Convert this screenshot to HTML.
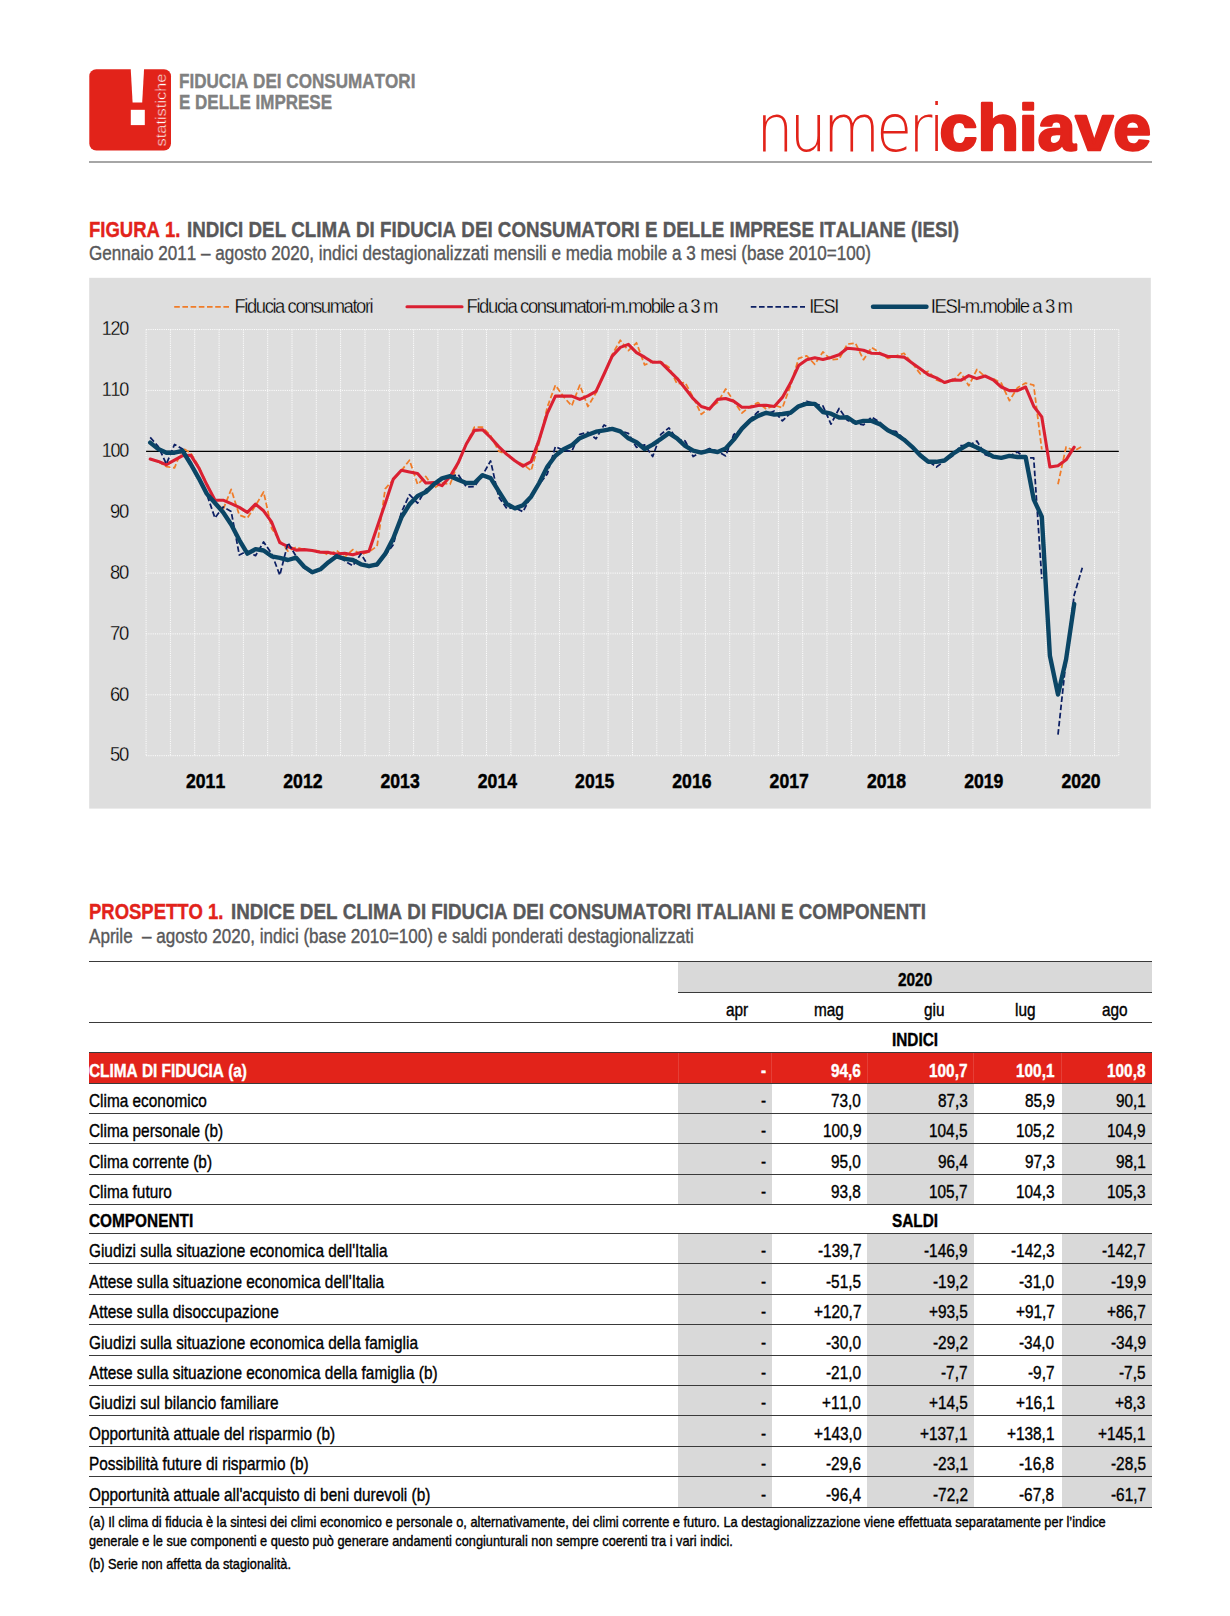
<!DOCTYPE html>
<html lang="it">
<head>
<meta charset="utf-8">
<title>Fiducia dei consumatori e delle imprese - numeri chiave</title>
<style>
html,body{margin:0;padding:0;background:#fff;}
body{width:1230px;height:1616px;position:relative;overflow:hidden;font-family:"Liberation Sans",sans-serif;color:#000;font-kerning:none;}
.t{position:absolute;line-height:1;white-space:pre;-webkit-text-stroke:0.38px currentColor;transform-origin:0 0;display:block;}
.b{position:absolute;}
svg{position:absolute;left:0;top:0;overflow:visible;}
svg text{font-family:"Liberation Sans",sans-serif;font-kerning:none;}
</style>
</head>
<body>
<svg width="1230" height="170" viewBox="0 0 1230 170">
<rect x="89.3" y="69.2" width="81.7" height="81.3" rx="7" ry="7" fill="#e2231a"/>
<path d="M130.7 68.5 L144.1 68.5 L142.2 102.4 L132.6 102.4 Z" fill="#fff"/>
<rect x="130.8" y="109.8" width="14" height="15.3" fill="#fff"/>
<text transform="translate(166.3,146.5) rotate(-90)" font-size="15.5" fill="#fff" textLength="73" lengthAdjust="spacingAndGlyphs" stroke="#e2231a" stroke-width="0.45">statistiche</text>
</svg>
<span class="t" style="left:179.40px;top:71.60px;font-size:19.8px;transform:scaleX(0.8640);font-weight:bold;color:#808080;">FIDUCIA DEI CONSUMATORI</span>
<span class="t" style="left:179.40px;top:92.60px;font-size:19.8px;transform:scaleX(0.8595);font-weight:bold;color:#808080;">E DELLE IMPRESE</span>
<svg width="1230" height="170" viewBox="0 0 1230 170">
<text x="756.5" y="151" font-size="66" style="font-family:'DejaVu Sans Light','DejaVu Sans',sans-serif;font-weight:200" fill="#e2231a" letter-spacing="-4" textLength="185" lengthAdjust="spacingAndGlyphs">numeri</text>
<text x="939.6" y="150.2" font-size="64" font-weight="bold" fill="#e2231a" stroke="#e2231a" stroke-width="2.6" stroke-linejoin="round" textLength="211.5" lengthAdjust="spacingAndGlyphs">chiave</text>
</svg>
<div class="b" style="left:89.00px;top:161.20px;width:1063.00px;height:1.60px;background:#a6a6a6;"></div>
<span class="t" style="left:89.30px;top:219.10px;font-size:21.8px;transform:scaleX(0.8489);font-weight:bold;color:#e2231a;">FIGURA 1.</span>
<span class="t" style="left:187.00px;top:219.10px;font-size:21.8px;transform:scaleX(0.8614);font-weight:bold;color:#58585a;">INDICI DEL CLIMA DI FIDUCIA DEI CONSUMATORI E DELLE IMPRESE ITALIANE (IESI)</span>
<span class="t" style="left:89.30px;top:243.70px;font-size:19.6px;transform:scaleX(0.8717);color:#58585a;">Gennaio 2011 – agosto 2020, indici destagionalizzati mensili e media mobile a 3 mesi (base 2010=100)</span>
<svg width="1230" height="1616" viewBox="0 0 1230 1616">
<rect x="89.2" y="277.8" width="1061.6" height="530.8" fill="#dedede"/>
<path d="M146.1 329.5V755.7M170.4 329.5V755.7M194.7 329.5V755.7M219.1 329.5V755.7M243.4 329.5V755.7M267.7 329.5V755.7M292.0 329.5V755.7M316.3 329.5V755.7M340.6 329.5V755.7M365.0 329.5V755.7M389.3 329.5V755.7M413.6 329.5V755.7M437.9 329.5V755.7M462.2 329.5V755.7M486.5 329.5V755.7M510.9 329.5V755.7M535.2 329.5V755.7M559.5 329.5V755.7M583.8 329.5V755.7M608.1 329.5V755.7M632.5 329.5V755.7M656.8 329.5V755.7M681.1 329.5V755.7M705.4 329.5V755.7M729.7 329.5V755.7M754.0 329.5V755.7M778.4 329.5V755.7M802.7 329.5V755.7M827.0 329.5V755.7M851.3 329.5V755.7M875.6 329.5V755.7M899.9 329.5V755.7M924.3 329.5V755.7M948.6 329.5V755.7M972.9 329.5V755.7M997.2 329.5V755.7M1021.5 329.5V755.7M1045.8 329.5V755.7M1070.2 329.5V755.7M1094.5 329.5V755.7M1118.8 329.5V755.7M146.1 329.5H1118.8M146.1 390.4H1118.8M146.1 512.2H1118.8M146.1 573.1H1118.8M146.1 633.9H1118.8M146.1 694.8H1118.8M146.1 755.7H1118.8" stroke="#fff" stroke-width="1" stroke-dasharray="1.1 1.1" fill="none" opacity="0.95"/>
<path d="M146.1 451.3H1118.8" stroke="#000" stroke-width="1.25" fill="none"/>
<g fill="none" stroke-linejoin="round">
<polyline points="150.2,459.1 158.3,461.8 166.4,466.6 174.5,467.9 182.6,448.2 190.7,453.0 198.8,466.6 206.9,484.2 215.0,501.7 223.1,509.5 231.2,489.4 239.3,515.1 247.4,518.0 255.5,505.6 263.6,492.0 271.7,528.4 279.8,540.7 288.0,551.1 296.1,547.2 304.2,549.8 312.3,550.1 320.4,551.1 328.5,555.0 336.6,550.5 344.7,557.1 352.8,549.6 360.9,554.5 369.0,551.9 377.1,546.1 385.2,488.8 393.3,479.7 401.4,470.6 409.5,460.2 417.6,484.3 425.8,476.5 433.9,488.2 442.0,483.0 450.1,484.3 458.2,462.8 466.3,444.0 474.4,427.1 482.5,427.1 490.6,435.6 498.7,451.2 506.8,454.4 514.9,460.9 523.0,464.2 531.1,470.7 539.2,442.7 547.3,407.1 555.4,385.1 563.6,396.8 571.7,405.9 579.8,385.1 587.9,406.5 596.0,392.9 604.1,374.0 612.2,354.5 620.3,340.2 628.4,350.6 636.5,342.8 644.6,364.9 652.7,361.7 660.8,361.7 668.9,367.2 677.0,383.8 685.1,382.5 693.2,397.4 701.3,414.3 709.5,407.8 717.6,402.6 725.7,389.0 733.8,401.3 741.9,413.0 750.0,406.5 758.1,402.6 766.2,409.1 774.3,405.2 782.4,407.8 790.5,385.7 798.6,358.4 806.7,355.8 814.8,364.3 822.9,351.9 831.0,359.7 839.1,359.1 847.3,344.1 855.4,343.1 863.5,359.7 871.6,347.4 879.7,352.6 887.8,358.4 895.9,356.1 904.0,353.2 912.1,363.0 920.2,373.8 928.3,371.4 936.4,379.9 944.5,382.9 952.6,381.2 960.7,372.7 968.8,385.7 976.9,369.5 985.1,376.6 993.2,378.6 1001.3,383.1 1009.4,400.7 1017.5,387.7 1025.6,383.1 1033.7,385.1 1041.8,449.5" stroke="#f07c28" stroke-width="1.75" stroke-dasharray="5.6 2.6"/>
<polyline points="1058.0,484.2 1066.1,447.0 1074.2,450.7 1082.3,446.4" stroke="#f07c28" stroke-width="1.75" stroke-dasharray="5.6 2.6"/>
<polyline points="150.2,459.1 158.3,461.4 166.4,464.7 174.5,460.1 182.6,455.6 190.7,455.2 198.8,467.9 206.9,484.8 215.0,500.2 223.1,500.2 231.2,503.7 239.3,507.4 247.4,512.4 255.5,504.1 263.6,510.8 271.7,522.2 279.8,542.7 288.0,546.6 296.1,550.1 304.2,549.6 312.3,550.5 320.4,552.2 328.5,552.4 336.6,554.1 344.7,553.3 352.8,554.8 360.9,552.6 369.0,551.3 377.1,527.3 385.2,503.4 393.3,479.1 401.4,470.3 409.5,471.9 417.6,473.5 425.8,483.0 433.9,482.6 442.0,485.6 450.1,476.5 458.2,462.8 466.3,444.0 474.4,430.4 482.5,429.7 490.6,437.5 498.7,446.6 506.8,454.4 514.9,460.7 523.0,466.1 531.1,461.6 539.2,439.5 547.3,413.3 555.4,396.1 563.6,396.1 571.7,396.1 579.8,399.4 587.9,395.9 596.0,391.3 604.1,374.0 612.2,356.1 620.3,347.4 628.4,344.4 636.5,352.6 644.6,357.2 652.7,362.3 660.8,362.3 668.9,370.4 677.0,378.3 685.1,388.3 693.2,398.7 701.3,406.5 709.5,409.1 717.6,399.4 725.7,398.5 733.8,401.3 741.9,407.2 750.0,407.2 758.1,405.5 766.2,405.2 774.3,406.5 782.4,397.4 790.5,383.1 798.6,365.6 806.7,359.7 814.8,357.8 822.9,359.5 831.0,357.4 839.1,354.8 847.3,348.3 855.4,349.0 863.5,350.3 871.6,353.2 879.7,353.5 887.8,356.5 895.9,356.5 904.0,357.1 912.1,363.0 920.2,368.8 928.3,374.7 936.4,377.9 944.5,382.5 952.6,379.9 960.7,380.3 968.8,375.6 976.9,378.6 985.1,376.0 993.2,379.9 1001.3,387.0 1009.4,390.6 1017.5,390.6 1025.6,387.0 1033.7,406.2 1041.8,416.9 1049.9,467.0 1058.0,465.7 1066.1,459.8 1074.2,447.2" stroke="#da2032" stroke-width="3.1" stroke-linecap="round"/>
<polyline points="150.2,437.4 158.3,446.5 166.4,464.0 174.5,444.5 182.6,449.1 190.7,464.0 198.8,478.6 206.9,494.6 215.0,518.0 223.1,506.9 231.2,511.5 239.3,555.0 247.4,551.1 255.5,555.7 263.6,542.0 271.7,553.7 279.8,575.2 288.0,542.7 296.1,556.3 304.2,568.0 312.3,573.3 320.4,568.0 328.5,561.5 336.6,555.0 344.7,560.9 352.8,565.8 360.9,553.9 369.0,566.9 377.1,565.6 385.2,555.2 393.3,544.8 401.4,512.2 409.5,494.7 417.6,503.1 425.8,489.5 433.9,484.9 442.0,477.1 450.1,476.5 458.2,474.5 466.3,486.9 474.4,486.6 482.5,475.2 490.6,460.9 498.7,497.0 506.8,508.4 514.9,507.8 523.0,511.7 531.1,496.1 539.2,484.3 547.3,473.9 555.4,446.6 563.6,450.5 571.7,451.2 579.8,434.3 587.9,432.3 596.0,438.8 604.1,424.9 612.2,429.5 620.3,430.8 628.4,433.4 636.5,447.4 644.6,444.8 652.7,456.5 660.8,434.4 668.9,427.9 677.0,439.0 685.1,440.9 693.2,456.5 701.3,452.0 709.5,448.5 717.6,451.3 725.7,455.9 733.8,434.4 741.9,429.2 750.0,419.2 758.1,411.7 766.2,414.3 774.3,411.1 782.4,420.9 790.5,413.0 798.6,406.5 806.7,401.3 814.8,403.9 822.9,405.9 831.0,424.1 839.1,408.5 847.3,420.2 855.4,423.5 863.5,424.8 871.6,417.0 879.7,422.2 887.8,430.6 895.9,431.3 904.0,439.1 912.1,447.5 920.2,455.9 928.3,461.1 936.4,467.0 944.5,461.1 952.6,455.9 960.7,445.5 968.8,445.5 976.9,441.0 985.1,454.6 993.2,457.2 1001.3,457.9 1009.4,455.9 1017.5,452.0 1025.6,457.9 1033.7,457.9 1041.8,578.6" stroke="#0c1f63" stroke-width="1.75" stroke-dasharray="5.6 2.6"/>
<polyline points="1058.0,734.6 1066.1,659.8 1074.2,595.0 1082.3,567.7" stroke="#0c1f63" stroke-width="1.75" stroke-dasharray="5.6 2.6"/>
<polyline points="150.2,442.6 158.3,449.1 166.4,452.7 174.5,452.7 182.6,450.8 190.7,464.0 198.8,478.3 206.9,493.9 215.0,503.0 223.1,512.3 231.2,524.5 239.3,540.1 247.4,553.7 255.5,549.2 263.6,550.5 271.7,556.3 279.8,557.9 288.0,560.0 296.1,557.6 304.2,566.7 312.3,572.2 320.4,569.3 328.5,562.2 336.6,556.3 344.7,558.9 352.8,560.0 360.9,564.3 369.0,566.2 377.1,564.3 385.2,553.9 393.3,538.3 401.4,517.4 409.5,504.4 417.6,496.0 425.8,492.1 433.9,484.3 442.0,478.4 450.1,476.2 458.2,479.7 466.3,483.0 474.4,483.0 482.5,475.2 490.6,478.1 498.7,491.1 506.8,503.9 514.9,508.4 523.0,505.2 531.1,496.7 539.2,483.0 547.3,466.8 555.4,455.7 563.6,449.2 571.7,445.3 579.8,438.2 587.9,434.7 596.0,431.7 604.1,430.3 612.2,428.9 620.3,431.4 628.4,438.3 636.5,442.2 644.6,449.0 652.7,444.6 660.8,439.0 668.9,433.1 677.0,438.3 685.1,445.9 693.2,450.7 701.3,452.6 709.5,450.7 717.6,452.0 725.7,448.5 733.8,439.6 741.9,428.6 750.0,420.6 758.1,415.9 766.2,412.8 774.3,414.6 782.4,414.0 790.5,412.8 798.6,406.3 806.7,403.7 814.8,403.9 822.9,412.0 831.0,413.7 839.1,417.6 847.3,417.2 855.4,422.8 863.5,420.9 871.6,420.9 879.7,424.1 887.8,430.2 895.9,434.2 904.0,439.7 912.1,446.8 920.2,455.3 928.3,461.8 936.4,461.8 944.5,460.5 952.6,454.0 960.7,448.8 968.8,444.0 976.9,447.5 985.1,452.0 993.2,456.6 1001.3,457.9 1009.4,455.9 1017.5,457.0 1025.6,457.0 1033.7,499.4 1041.8,516.7 1049.9,655.8 1058.0,694.5 1066.1,659.3 1074.2,603.9" stroke="#0a4565" stroke-width="4.4" stroke-linecap="round"/>
</g>
<path d="M174.2 306.8H229" stroke="#f07c28" stroke-width="1.75" stroke-dasharray="5.6 2.6" fill="none"/>
<path d="M407 306.8H462" stroke="#da2032" stroke-width="3.1" stroke-linecap="round" fill="none"/>
<path d="M750.8 306.8H805" stroke="#0c1f63" stroke-width="1.75" stroke-dasharray="5.6 2.6" fill="none"/>
<path d="M873 306.8H926.5" stroke="#0a4565" stroke-width="4.4" stroke-linecap="round" fill="none"/>
<text x="234.5" y="312.7" font-size="19.5" stroke="#dedede" stroke-width="0.32" letter-spacing="-1.5" textLength="137.8" lengthAdjust="spacingAndGlyphs">Fiducia consumatori</text>
<text x="466.5" y="312.7" font-size="19.5" stroke="#dedede" stroke-width="0.32" letter-spacing="-1.5" textLength="250.5" lengthAdjust="spacingAndGlyphs">Fiducia consumatori-m.mobile a 3 m</text>
<text x="809.2" y="312.7" font-size="19.5" stroke="#dedede" stroke-width="0.32" letter-spacing="-1.5" textLength="28.7" lengthAdjust="spacingAndGlyphs">IESI</text>
<text x="930.8" y="312.7" font-size="19.5" stroke="#dedede" stroke-width="0.32" letter-spacing="-1.5" textLength="140.8" lengthAdjust="spacingAndGlyphs">IESI-m.mobile a 3 m</text>
<text x="127.8" y="335.2" font-size="20.2" text-anchor="end" stroke="#dedede" stroke-width="0.32" letter-spacing="-1.5" textLength="26.0" lengthAdjust="spacingAndGlyphs">120</text>
<text x="127.8" y="396.1" font-size="20.2" text-anchor="end" stroke="#dedede" stroke-width="0.32" letter-spacing="-1.5" textLength="26.0" lengthAdjust="spacingAndGlyphs">110</text>
<text x="127.8" y="457.0" font-size="20.2" text-anchor="end" stroke="#dedede" stroke-width="0.32" letter-spacing="-1.5" textLength="26.0" lengthAdjust="spacingAndGlyphs">100</text>
<text x="127.8" y="517.9" font-size="20.2" text-anchor="end" stroke="#dedede" stroke-width="0.32" letter-spacing="-1.5" textLength="17.8" lengthAdjust="spacingAndGlyphs">90</text>
<text x="127.8" y="578.8" font-size="20.2" text-anchor="end" stroke="#dedede" stroke-width="0.32" letter-spacing="-1.5" textLength="17.8" lengthAdjust="spacingAndGlyphs">80</text>
<text x="127.8" y="639.6" font-size="20.2" text-anchor="end" stroke="#dedede" stroke-width="0.32" letter-spacing="-1.5" textLength="17.8" lengthAdjust="spacingAndGlyphs">70</text>
<text x="127.8" y="700.5" font-size="20.2" text-anchor="end" stroke="#dedede" stroke-width="0.32" letter-spacing="-1.5" textLength="17.8" lengthAdjust="spacingAndGlyphs">60</text>
<text x="127.8" y="761.4" font-size="20.2" text-anchor="end" stroke="#dedede" stroke-width="0.32" letter-spacing="-1.5" textLength="17.8" lengthAdjust="spacingAndGlyphs">50</text>
<text x="205.6" y="787.6" font-size="20.2" text-anchor="middle" font-weight="bold" stroke="#000" stroke-width="0.45" textLength="39.2" lengthAdjust="spacingAndGlyphs">2011</text>
<text x="302.9" y="787.6" font-size="20.2" text-anchor="middle" font-weight="bold" stroke="#000" stroke-width="0.45" textLength="39.2" lengthAdjust="spacingAndGlyphs">2012</text>
<text x="400.1" y="787.6" font-size="20.2" text-anchor="middle" font-weight="bold" stroke="#000" stroke-width="0.45" textLength="39.2" lengthAdjust="spacingAndGlyphs">2013</text>
<text x="497.4" y="787.6" font-size="20.2" text-anchor="middle" font-weight="bold" stroke="#000" stroke-width="0.45" textLength="39.2" lengthAdjust="spacingAndGlyphs">2014</text>
<text x="594.7" y="787.6" font-size="20.2" text-anchor="middle" font-weight="bold" stroke="#000" stroke-width="0.45" textLength="39.2" lengthAdjust="spacingAndGlyphs">2015</text>
<text x="691.9" y="787.6" font-size="20.2" text-anchor="middle" font-weight="bold" stroke="#000" stroke-width="0.45" textLength="39.2" lengthAdjust="spacingAndGlyphs">2016</text>
<text x="789.2" y="787.6" font-size="20.2" text-anchor="middle" font-weight="bold" stroke="#000" stroke-width="0.45" textLength="39.2" lengthAdjust="spacingAndGlyphs">2017</text>
<text x="886.5" y="787.6" font-size="20.2" text-anchor="middle" font-weight="bold" stroke="#000" stroke-width="0.45" textLength="39.2" lengthAdjust="spacingAndGlyphs">2018</text>
<text x="983.8" y="787.6" font-size="20.2" text-anchor="middle" font-weight="bold" stroke="#000" stroke-width="0.45" textLength="39.2" lengthAdjust="spacingAndGlyphs">2019</text>
<text x="1081.0" y="787.6" font-size="20.2" text-anchor="middle" font-weight="bold" stroke="#000" stroke-width="0.45" textLength="39.2" lengthAdjust="spacingAndGlyphs">2020</text>
</svg>
<span class="t" style="left:89.30px;top:901.10px;font-size:21.8px;transform:scaleX(0.8475);font-weight:bold;color:#e2231a;">PROSPETTO 1.</span>
<span class="t" style="left:230.50px;top:901.10px;font-size:21.8px;transform:scaleX(0.8617);font-weight:bold;color:#58585a;">INDICE DEL CLIMA DI FIDUCIA DEI CONSUMATORI ITALIANI E COMPONENTI</span>
<span class="t" style="left:89.30px;top:926.70px;font-size:19.6px;transform:scaleX(0.8711);color:#58585a;">Aprile  – agosto 2020, indici (base 2010=100) e saldi ponderati destagionalizzati</span>
<div class="b" style="left:678.30px;top:961.50px;width:473.70px;height:31.00px;background:#d9d9d9;"></div>
<div class="b" style="left:89.00px;top:1052.50px;width:1063.00px;height:31.00px;background:#e2231a;"></div>
<div class="b" style="left:678.30px;top:1083.50px;width:93.50px;height:30.00px;background:#d9d9d9;"></div>
<div class="b" style="left:867.30px;top:1083.50px;width:106.50px;height:30.00px;background:#d9d9d9;"></div>
<div class="b" style="left:1061.60px;top:1083.50px;width:90.40px;height:30.00px;background:#d9d9d9;"></div>
<div class="b" style="left:678.30px;top:1113.50px;width:93.50px;height:30.00px;background:#d9d9d9;"></div>
<div class="b" style="left:867.30px;top:1113.50px;width:106.50px;height:30.00px;background:#d9d9d9;"></div>
<div class="b" style="left:1061.60px;top:1113.50px;width:90.40px;height:30.00px;background:#d9d9d9;"></div>
<div class="b" style="left:678.30px;top:1143.50px;width:93.50px;height:31.00px;background:#d9d9d9;"></div>
<div class="b" style="left:867.30px;top:1143.50px;width:106.50px;height:31.00px;background:#d9d9d9;"></div>
<div class="b" style="left:1061.60px;top:1143.50px;width:90.40px;height:31.00px;background:#d9d9d9;"></div>
<div class="b" style="left:678.30px;top:1174.50px;width:93.50px;height:30.00px;background:#d9d9d9;"></div>
<div class="b" style="left:867.30px;top:1174.50px;width:106.50px;height:30.00px;background:#d9d9d9;"></div>
<div class="b" style="left:1061.60px;top:1174.50px;width:90.40px;height:30.00px;background:#d9d9d9;"></div>
<div class="b" style="left:678.30px;top:1233.50px;width:93.50px;height:30.00px;background:#d9d9d9;"></div>
<div class="b" style="left:867.30px;top:1233.50px;width:106.50px;height:30.00px;background:#d9d9d9;"></div>
<div class="b" style="left:1061.60px;top:1233.50px;width:90.40px;height:30.00px;background:#d9d9d9;"></div>
<div class="b" style="left:678.30px;top:1263.50px;width:93.50px;height:31.00px;background:#d9d9d9;"></div>
<div class="b" style="left:867.30px;top:1263.50px;width:106.50px;height:31.00px;background:#d9d9d9;"></div>
<div class="b" style="left:1061.60px;top:1263.50px;width:90.40px;height:31.00px;background:#d9d9d9;"></div>
<div class="b" style="left:678.30px;top:1294.50px;width:93.50px;height:30.00px;background:#d9d9d9;"></div>
<div class="b" style="left:867.30px;top:1294.50px;width:106.50px;height:30.00px;background:#d9d9d9;"></div>
<div class="b" style="left:1061.60px;top:1294.50px;width:90.40px;height:30.00px;background:#d9d9d9;"></div>
<div class="b" style="left:678.30px;top:1324.50px;width:93.50px;height:31.00px;background:#d9d9d9;"></div>
<div class="b" style="left:867.30px;top:1324.50px;width:106.50px;height:31.00px;background:#d9d9d9;"></div>
<div class="b" style="left:1061.60px;top:1324.50px;width:90.40px;height:31.00px;background:#d9d9d9;"></div>
<div class="b" style="left:678.30px;top:1355.50px;width:93.50px;height:30.00px;background:#d9d9d9;"></div>
<div class="b" style="left:867.30px;top:1355.50px;width:106.50px;height:30.00px;background:#d9d9d9;"></div>
<div class="b" style="left:1061.60px;top:1355.50px;width:90.40px;height:30.00px;background:#d9d9d9;"></div>
<div class="b" style="left:678.30px;top:1385.50px;width:93.50px;height:30.00px;background:#d9d9d9;"></div>
<div class="b" style="left:867.30px;top:1385.50px;width:106.50px;height:30.00px;background:#d9d9d9;"></div>
<div class="b" style="left:1061.60px;top:1385.50px;width:90.40px;height:30.00px;background:#d9d9d9;"></div>
<div class="b" style="left:678.30px;top:1415.50px;width:93.50px;height:31.00px;background:#d9d9d9;"></div>
<div class="b" style="left:867.30px;top:1415.50px;width:106.50px;height:31.00px;background:#d9d9d9;"></div>
<div class="b" style="left:1061.60px;top:1415.50px;width:90.40px;height:31.00px;background:#d9d9d9;"></div>
<div class="b" style="left:678.30px;top:1446.50px;width:93.50px;height:30.00px;background:#d9d9d9;"></div>
<div class="b" style="left:867.30px;top:1446.50px;width:106.50px;height:30.00px;background:#d9d9d9;"></div>
<div class="b" style="left:1061.60px;top:1446.50px;width:90.40px;height:30.00px;background:#d9d9d9;"></div>
<div class="b" style="left:678.30px;top:1476.50px;width:93.50px;height:31.00px;background:#d9d9d9;"></div>
<div class="b" style="left:867.30px;top:1476.50px;width:106.50px;height:31.00px;background:#d9d9d9;"></div>
<div class="b" style="left:1061.60px;top:1476.50px;width:90.40px;height:31.00px;background:#d9d9d9;"></div>
<div class="b" style="left:89.00px;top:961.00px;width:1063.00px;height:1.00px;background:#3a3a3a;"></div>
<div class="b" style="left:678.30px;top:992.00px;width:473.70px;height:1.00px;background:#3a3a3a;"></div>
<div class="b" style="left:89.00px;top:1022.00px;width:1063.00px;height:1.00px;background:#3a3a3a;"></div>
<div class="b" style="left:89.00px;top:1052.00px;width:1063.00px;height:1.00px;background:#3a3a3a;"></div>
<div class="b" style="left:89.00px;top:1083.00px;width:1063.00px;height:1.00px;background:#3a3a3a;"></div>
<div class="b" style="left:89.00px;top:1113.00px;width:1063.00px;height:1.00px;background:#3a3a3a;"></div>
<div class="b" style="left:89.00px;top:1143.00px;width:1063.00px;height:1.00px;background:#3a3a3a;"></div>
<div class="b" style="left:89.00px;top:1174.00px;width:1063.00px;height:1.00px;background:#3a3a3a;"></div>
<div class="b" style="left:89.00px;top:1204.00px;width:1063.00px;height:1.00px;background:#3a3a3a;"></div>
<div class="b" style="left:89.00px;top:1233.00px;width:1063.00px;height:1.00px;background:#3a3a3a;"></div>
<div class="b" style="left:89.00px;top:1263.00px;width:1063.00px;height:1.00px;background:#3a3a3a;"></div>
<div class="b" style="left:89.00px;top:1294.00px;width:1063.00px;height:1.00px;background:#3a3a3a;"></div>
<div class="b" style="left:89.00px;top:1324.00px;width:1063.00px;height:1.00px;background:#3a3a3a;"></div>
<div class="b" style="left:89.00px;top:1355.00px;width:1063.00px;height:1.00px;background:#3a3a3a;"></div>
<div class="b" style="left:89.00px;top:1385.00px;width:1063.00px;height:1.00px;background:#3a3a3a;"></div>
<div class="b" style="left:89.00px;top:1415.00px;width:1063.00px;height:1.00px;background:#3a3a3a;"></div>
<div class="b" style="left:89.00px;top:1446.00px;width:1063.00px;height:1.00px;background:#3a3a3a;"></div>
<div class="b" style="left:89.00px;top:1476.00px;width:1063.00px;height:1.00px;background:#3a3a3a;"></div>
<div class="b" style="left:89.00px;top:1507.00px;width:1063.00px;height:1.00px;background:#3a3a3a;"></div>
<div class="b" style="left:677.80px;top:1053.00px;width:1.00px;height:30.00px;background:rgba(255,255,255,0.13);"></div>
<div class="b" style="left:771.30px;top:1053.00px;width:1.00px;height:30.00px;background:rgba(255,255,255,0.13);"></div>
<div class="b" style="left:866.80px;top:1053.00px;width:1.00px;height:30.00px;background:rgba(255,255,255,0.13);"></div>
<div class="b" style="left:973.30px;top:1053.00px;width:1.00px;height:30.00px;background:rgba(255,255,255,0.13);"></div>
<div class="b" style="left:1061.10px;top:1053.00px;width:1.00px;height:30.00px;background:rgba(255,255,255,0.13);"></div>
<span class="t" style="left:898.04px;top:971.40px;font-size:18.2px;transform:scaleX(0.8452);font-weight:bold;">2020</span>
<span class="t" style="left:725.89px;top:1001.40px;font-size:18.2px;transform:scaleX(0.8452);">apr</span>
<span class="t" style="left:813.54px;top:1001.40px;font-size:18.2px;transform:scaleX(0.8452);">mag</span>
<span class="t" style="left:924.24px;top:1001.40px;font-size:18.2px;transform:scaleX(0.8452);">giu</span>
<span class="t" style="left:1014.74px;top:1001.40px;font-size:18.2px;transform:scaleX(0.8452);">lug</span>
<span class="t" style="left:1101.67px;top:1001.40px;font-size:18.2px;transform:scaleX(0.8452);">ago</span>
<span class="t" style="left:892.08px;top:1031.40px;font-size:18.2px;transform:scaleX(0.8452);font-weight:bold;">INDICI</span>
<span class="t" style="left:89.40px;top:1062.40px;font-size:18.2px;transform:scaleX(0.8452);font-weight:bold;color:#fff;">CLIMA DI FIDUCIA (a)</span>
<span class="t" style="left:761.38px;top:1062.40px;font-size:18.2px;transform:scaleX(0.8452);font-weight:bold;color:#fff;">-</span>
<span class="t" style="left:831.37px;top:1062.40px;font-size:18.2px;transform:scaleX(0.8452);font-weight:bold;color:#fff;">94,6</span>
<span class="t" style="left:929.31px;top:1062.40px;font-size:18.2px;transform:scaleX(0.8452);font-weight:bold;color:#fff;">100,7</span>
<span class="t" style="left:1016.01px;top:1062.40px;font-size:18.2px;transform:scaleX(0.8452);font-weight:bold;color:#fff;">100,1</span>
<span class="t" style="left:1107.31px;top:1062.40px;font-size:18.2px;transform:scaleX(0.8452);font-weight:bold;color:#fff;">100,8</span>
<span class="t" style="left:89.40px;top:1092.40px;font-size:18.2px;transform:scaleX(0.8452);color:#000;">Clima economico</span>
<span class="t" style="left:761.38px;top:1092.40px;font-size:18.2px;transform:scaleX(0.8452);color:#000;">-</span>
<span class="t" style="left:831.37px;top:1092.40px;font-size:18.2px;transform:scaleX(0.8452);color:#000;">73,0</span>
<span class="t" style="left:937.87px;top:1092.40px;font-size:18.2px;transform:scaleX(0.8452);color:#000;">87,3</span>
<span class="t" style="left:1024.57px;top:1092.40px;font-size:18.2px;transform:scaleX(0.8452);color:#000;">85,9</span>
<span class="t" style="left:1115.87px;top:1092.40px;font-size:18.2px;transform:scaleX(0.8452);color:#000;">90,1</span>
<span class="t" style="left:89.40px;top:1122.40px;font-size:18.2px;transform:scaleX(0.8452);color:#000;">Clima personale (b)</span>
<span class="t" style="left:761.38px;top:1122.40px;font-size:18.2px;transform:scaleX(0.8452);color:#000;">-</span>
<span class="t" style="left:822.81px;top:1122.40px;font-size:18.2px;transform:scaleX(0.8452);color:#000;">100,9</span>
<span class="t" style="left:929.31px;top:1122.40px;font-size:18.2px;transform:scaleX(0.8452);color:#000;">104,5</span>
<span class="t" style="left:1016.01px;top:1122.40px;font-size:18.2px;transform:scaleX(0.8452);color:#000;">105,2</span>
<span class="t" style="left:1107.31px;top:1122.40px;font-size:18.2px;transform:scaleX(0.8452);color:#000;">104,9</span>
<span class="t" style="left:89.40px;top:1153.40px;font-size:18.2px;transform:scaleX(0.8452);color:#000;">Clima corrente (b)</span>
<span class="t" style="left:761.38px;top:1153.40px;font-size:18.2px;transform:scaleX(0.8452);color:#000;">-</span>
<span class="t" style="left:831.37px;top:1153.40px;font-size:18.2px;transform:scaleX(0.8452);color:#000;">95,0</span>
<span class="t" style="left:937.87px;top:1153.40px;font-size:18.2px;transform:scaleX(0.8452);color:#000;">96,4</span>
<span class="t" style="left:1024.57px;top:1153.40px;font-size:18.2px;transform:scaleX(0.8452);color:#000;">97,3</span>
<span class="t" style="left:1115.87px;top:1153.40px;font-size:18.2px;transform:scaleX(0.8452);color:#000;">98,1</span>
<span class="t" style="left:89.40px;top:1183.40px;font-size:18.2px;transform:scaleX(0.8452);color:#000;">Clima futuro</span>
<span class="t" style="left:761.38px;top:1183.40px;font-size:18.2px;transform:scaleX(0.8452);color:#000;">-</span>
<span class="t" style="left:831.37px;top:1183.40px;font-size:18.2px;transform:scaleX(0.8452);color:#000;">93,8</span>
<span class="t" style="left:929.31px;top:1183.40px;font-size:18.2px;transform:scaleX(0.8452);color:#000;">105,7</span>
<span class="t" style="left:1016.01px;top:1183.40px;font-size:18.2px;transform:scaleX(0.8452);color:#000;">104,3</span>
<span class="t" style="left:1107.31px;top:1183.40px;font-size:18.2px;transform:scaleX(0.8452);color:#000;">105,3</span>
<span class="t" style="left:89.40px;top:1212.40px;font-size:18.2px;transform:scaleX(0.8452);font-weight:bold;color:#000;">COMPONENTI</span>
<span class="t" style="left:892.08px;top:1212.40px;font-size:18.2px;transform:scaleX(0.8452);font-weight:bold;">SALDI</span>
<span class="t" style="left:89.40px;top:1242.40px;font-size:18.2px;transform:scaleX(0.8452);color:#000;">Giudizi sulla situazione economica dell'Italia</span>
<span class="t" style="left:761.38px;top:1242.40px;font-size:18.2px;transform:scaleX(0.8452);color:#000;">-</span>
<span class="t" style="left:817.69px;top:1242.40px;font-size:18.2px;transform:scaleX(0.8452);color:#000;">-139,7</span>
<span class="t" style="left:924.19px;top:1242.40px;font-size:18.2px;transform:scaleX(0.8452);color:#000;">-146,9</span>
<span class="t" style="left:1010.89px;top:1242.40px;font-size:18.2px;transform:scaleX(0.8452);color:#000;">-142,3</span>
<span class="t" style="left:1102.19px;top:1242.40px;font-size:18.2px;transform:scaleX(0.8452);color:#000;">-142,7</span>
<span class="t" style="left:89.40px;top:1273.40px;font-size:18.2px;transform:scaleX(0.8452);color:#000;">Attese sulla situazione economica dell'Italia</span>
<span class="t" style="left:761.38px;top:1273.40px;font-size:18.2px;transform:scaleX(0.8452);color:#000;">-</span>
<span class="t" style="left:826.24px;top:1273.40px;font-size:18.2px;transform:scaleX(0.8452);color:#000;">-51,5</span>
<span class="t" style="left:932.74px;top:1273.40px;font-size:18.2px;transform:scaleX(0.8452);color:#000;">-19,2</span>
<span class="t" style="left:1019.44px;top:1273.40px;font-size:18.2px;transform:scaleX(0.8452);color:#000;">-31,0</span>
<span class="t" style="left:1110.74px;top:1273.40px;font-size:18.2px;transform:scaleX(0.8452);color:#000;">-19,9</span>
<span class="t" style="left:89.40px;top:1303.40px;font-size:18.2px;transform:scaleX(0.8452);color:#000;">Attese sulla disoccupazione</span>
<span class="t" style="left:761.38px;top:1303.40px;font-size:18.2px;transform:scaleX(0.8452);color:#000;">-</span>
<span class="t" style="left:813.83px;top:1303.40px;font-size:18.2px;transform:scaleX(0.8452);color:#000;">+120,7</span>
<span class="t" style="left:928.88px;top:1303.40px;font-size:18.2px;transform:scaleX(0.8452);color:#000;">+93,5</span>
<span class="t" style="left:1015.58px;top:1303.40px;font-size:18.2px;transform:scaleX(0.8452);color:#000;">+91,7</span>
<span class="t" style="left:1106.88px;top:1303.40px;font-size:18.2px;transform:scaleX(0.8452);color:#000;">+86,7</span>
<span class="t" style="left:89.40px;top:1334.40px;font-size:18.2px;transform:scaleX(0.8452);color:#000;">Giudizi sulla situazione economica della famiglia</span>
<span class="t" style="left:761.38px;top:1334.40px;font-size:18.2px;transform:scaleX(0.8452);color:#000;">-</span>
<span class="t" style="left:826.24px;top:1334.40px;font-size:18.2px;transform:scaleX(0.8452);color:#000;">-30,0</span>
<span class="t" style="left:932.74px;top:1334.40px;font-size:18.2px;transform:scaleX(0.8452);color:#000;">-29,2</span>
<span class="t" style="left:1019.44px;top:1334.40px;font-size:18.2px;transform:scaleX(0.8452);color:#000;">-34,0</span>
<span class="t" style="left:1110.74px;top:1334.40px;font-size:18.2px;transform:scaleX(0.8452);color:#000;">-34,9</span>
<span class="t" style="left:89.40px;top:1364.40px;font-size:18.2px;transform:scaleX(0.8452);color:#000;">Attese sulla situazione economica della famiglia (b)</span>
<span class="t" style="left:761.38px;top:1364.40px;font-size:18.2px;transform:scaleX(0.8452);color:#000;">-</span>
<span class="t" style="left:826.24px;top:1364.40px;font-size:18.2px;transform:scaleX(0.8452);color:#000;">-21,0</span>
<span class="t" style="left:941.30px;top:1364.40px;font-size:18.2px;transform:scaleX(0.8452);color:#000;">-7,7</span>
<span class="t" style="left:1028.00px;top:1364.40px;font-size:18.2px;transform:scaleX(0.8452);color:#000;">-9,7</span>
<span class="t" style="left:1119.30px;top:1364.40px;font-size:18.2px;transform:scaleX(0.8452);color:#000;">-7,5</span>
<span class="t" style="left:89.40px;top:1394.40px;font-size:18.2px;transform:scaleX(0.8452);color:#000;">Giudizi sul bilancio familiare</span>
<span class="t" style="left:761.38px;top:1394.40px;font-size:18.2px;transform:scaleX(0.8452);color:#000;">-</span>
<span class="t" style="left:822.40px;top:1394.40px;font-size:18.2px;transform:scaleX(0.8452);color:#000;">+11,0</span>
<span class="t" style="left:928.88px;top:1394.40px;font-size:18.2px;transform:scaleX(0.8452);color:#000;">+14,5</span>
<span class="t" style="left:1015.58px;top:1394.40px;font-size:18.2px;transform:scaleX(0.8452);color:#000;">+16,1</span>
<span class="t" style="left:1115.44px;top:1394.40px;font-size:18.2px;transform:scaleX(0.8452);color:#000;">+8,3</span>
<span class="t" style="left:89.40px;top:1425.40px;font-size:18.2px;transform:scaleX(0.8452);color:#000;">Opportunità attuale del risparmio (b)</span>
<span class="t" style="left:761.38px;top:1425.40px;font-size:18.2px;transform:scaleX(0.8452);color:#000;">-</span>
<span class="t" style="left:813.83px;top:1425.40px;font-size:18.2px;transform:scaleX(0.8452);color:#000;">+143,0</span>
<span class="t" style="left:920.33px;top:1425.40px;font-size:18.2px;transform:scaleX(0.8452);color:#000;">+137,1</span>
<span class="t" style="left:1007.03px;top:1425.40px;font-size:18.2px;transform:scaleX(0.8452);color:#000;">+138,1</span>
<span class="t" style="left:1098.33px;top:1425.40px;font-size:18.2px;transform:scaleX(0.8452);color:#000;">+145,1</span>
<span class="t" style="left:89.40px;top:1455.40px;font-size:18.2px;transform:scaleX(0.8452);color:#000;">Possibilità future di risparmio (b)</span>
<span class="t" style="left:761.38px;top:1455.40px;font-size:18.2px;transform:scaleX(0.8452);color:#000;">-</span>
<span class="t" style="left:826.24px;top:1455.40px;font-size:18.2px;transform:scaleX(0.8452);color:#000;">-29,6</span>
<span class="t" style="left:932.74px;top:1455.40px;font-size:18.2px;transform:scaleX(0.8452);color:#000;">-23,1</span>
<span class="t" style="left:1019.44px;top:1455.40px;font-size:18.2px;transform:scaleX(0.8452);color:#000;">-16,8</span>
<span class="t" style="left:1110.74px;top:1455.40px;font-size:18.2px;transform:scaleX(0.8452);color:#000;">-28,5</span>
<span class="t" style="left:89.40px;top:1486.40px;font-size:18.2px;transform:scaleX(0.8452);color:#000;">Opportunità attuale all'acquisto di beni durevoli (b)</span>
<span class="t" style="left:761.38px;top:1486.40px;font-size:18.2px;transform:scaleX(0.8452);color:#000;">-</span>
<span class="t" style="left:826.24px;top:1486.40px;font-size:18.2px;transform:scaleX(0.8452);color:#000;">-96,4</span>
<span class="t" style="left:932.74px;top:1486.40px;font-size:18.2px;transform:scaleX(0.8452);color:#000;">-72,2</span>
<span class="t" style="left:1019.44px;top:1486.40px;font-size:18.2px;transform:scaleX(0.8452);color:#000;">-67,8</span>
<span class="t" style="left:1110.74px;top:1486.40px;font-size:18.2px;transform:scaleX(0.8452);color:#000;">-61,7</span>
<span class="t" style="left:89.30px;top:1515.20px;font-size:14.6px;transform:scaleX(0.8789);">(a) Il clima di fiducia è la sintesi dei climi economico e personale o, alternativamente, dei climi corrente e futuro. La destagionalizzazione viene effettuata separatamente per l’indice</span>
<span class="t" style="left:89.30px;top:1534.20px;font-size:14.6px;transform:scaleX(0.8750);">generale e le sue componenti e questo può generare andamenti congiunturali non sempre coerenti tra i vari indici.</span>
<span class="t" style="left:89.30px;top:1557.20px;font-size:14.6px;transform:scaleX(0.8734);">(b) Serie non affetta da stagionalità.</span>
</body>
</html>
